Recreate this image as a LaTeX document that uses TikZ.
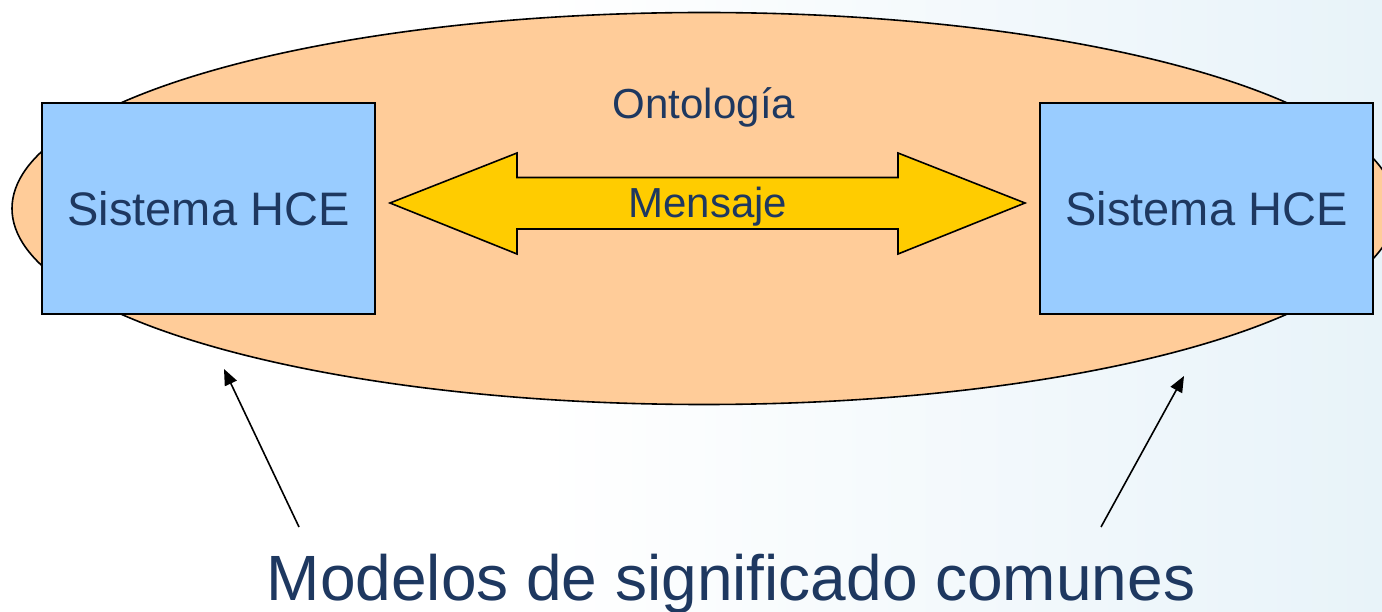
\documentclass[tikz,border=0pt]{standalone}
\usepackage{fontspec}
\setmainfont{Liberation Sans}
\usetikzlibrary{shapes.geometric,arrows.meta}
\definecolor{txtblue}{RGB}{30,56,96}
\definecolor{peach}{RGB}{255,204,153}
\definecolor{boxblue}{RGB}{153,204,255}
\definecolor{gold}{RGB}{255,204,0}
\definecolor{bgblue}{RGB}{232,243,249}
\tikzset{
  sysbox/.style={draw=black, line width=1.6pt, fill=boxblue, minimum width=333pt, minimum height=211pt, inner sep=0pt, text=txtblue, font=\fontsize{47}{56}\selectfont},
  pointer/.style={draw=black, line width=1.6pt, -{Triangle[length=16pt,width=13pt]}},
  lbl/.style={text=txtblue, inner sep=0pt},
}
\begin{document}
\begin{tikzpicture}[x=1pt,y=-1pt]
\useasboundingbox (0,0) rectangle (1382,612);
% background
\fill[white] (0,0) rectangle (1382,612);
\shade[left color=white, right color=bgblue] (540,0) rectangle (1382,612);
% ontology ellipse
\node[ellipse, draw=black, line width=1.6pt, fill=peach, minimum width=1384pt, minimum height=392pt, inner sep=0pt] (onto) at (704,208.5) {};
\node[lbl, font=\fontsize{42}{50}\selectfont] (ontolbl) at (704,107) {Ontología};
% systems
\node[sysbox] (sysA) at (208.5,208.5) {Sistema HCE};
\node[sysbox] (sysB) at (1206.5,208.5) {Sistema HCE};
% double arrow
\draw[fill=gold, line width=1.6pt, line join=miter]
  (390,203) -- (517,153) -- (517,177.5) -- (898,177.5) -- (898,153) -- (1025,203)
  -- (898,254) -- (898,229) -- (517,229) -- (517,254) -- cycle;
\node[lbl, font=\fontsize{42}{50}\selectfont] (msg) at (708,207) {Mensaje};
% bottom label
\node[lbl, font=\fontsize{64}{76}\selectfont, anchor=base] (models) at (731,600) {Modelos de significado comunes};
\coordinate (tailA) at (299,527);
\coordinate (tipA) at (224,369);
\coordinate (tailB) at (1101,527);
\coordinate (tipB) at (1184,376);
\draw[pointer] (tailA) -- (tipA);
\draw[pointer] (tailB) -- (tipB);
\end{tikzpicture}
\end{document}
